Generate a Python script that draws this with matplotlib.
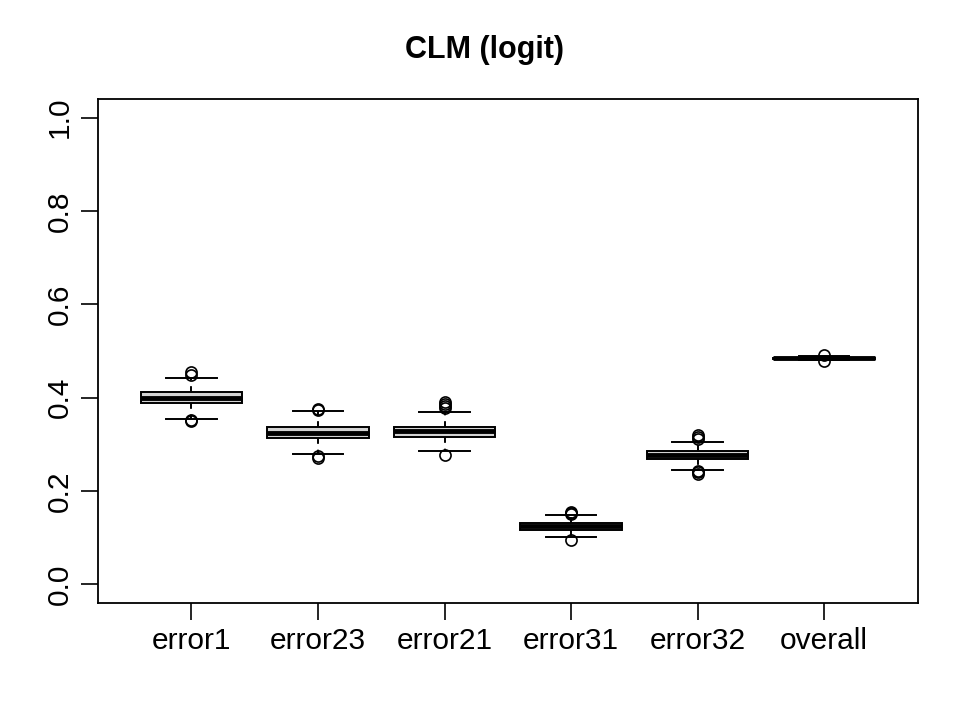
import matplotlib
matplotlib.use('Agg')
import matplotlib.pyplot as plt

# Five-number summaries, one entry per group
labels = ['error1', 'error23', 'error21', 'error31', 'error32', 'overall']
q1 = [0.389, 0.313, 0.315, 0.116, 0.268, 0.4820]
medians = [0.400, 0.325, 0.328, 0.124, 0.277, 0.4840]
q3 = [0.412, 0.338, 0.338, 0.132, 0.285, 0.4860]
whislo = [0.355, 0.280, 0.285, 0.101, 0.246, 0.4800]
whishi = [0.443, 0.372, 0.370, 0.148, 0.306, 0.4885]
outliers = [
    [0.456, 0.449, 0.352, 0.349],
    [0.376, 0.374, 0.275, 0.270],
    [0.390, 0.386, 0.382, 0.378, 0.277],
    [0.155, 0.152, 0.150, 0.094],
    [0.320, 0.315, 0.311, 0.243, 0.240, 0.237],
    [0.491, 0.479],
]

plt.rcParams['font.family'] = ['Liberation Sans', 'DejaVu Sans']

fig = plt.figure(figsize=(9.69, 7.27), dpi=100)
ax = fig.add_axes([0.101, 0.1706, 0.846, 0.6932])

stats = []
for i in range(len(labels)):
    stats.append(dict(label=labels[i], q1=q1[i], med=medians[i], q3=q3[i],
                      whislo=whislo[i], whishi=whishi[i], fliers=outliers[i]))

ax.bxp(stats, positions=range(1, len(labels) + 1), widths=0.8,
       patch_artist=True, showfliers=True,
       boxprops=dict(facecolor='#d3d3d3', edgecolor='black', linewidth=1.4),
       medianprops=dict(color='black', linewidth=3.5, solid_capstyle='butt'),
       whiskerprops=dict(color='black', linewidth=1.4, linestyle=(0, (3, 3))),
       capprops=dict(color='black', linewidth=1.4),
       capwidths=0.4,
       flierprops=dict(marker='o', markerfacecolor='none', markeredgecolor='black',
                       markersize=8, markeredgewidth=1.2))

ax.set_xlim(0.26, 6.74)
ax.set_ylim(-0.04, 1.04)
ax.set_yticks([0.0, 0.2, 0.4, 0.6, 0.8, 1.0])
ax.set_yticklabels(['0.0', '0.2', '0.4', '0.6', '0.8', '1.0'], rotation=90, va='center')
ax.set_xticks(range(1, len(labels) + 1))
ax.set_xticklabels(labels)
ax.tick_params(axis='both', labelsize=21.5, length=12, width=1.2, pad=5)
ax.tick_params(axis='y', pad=5.5)
for sp in ax.spines.values():
    sp.set_linewidth(1.3)

fig.text(0.5, 1 - 50 / 727, 'CLM (logit)', ha='center', va='center',
         fontsize=22, fontweight='bold')

fig.savefig('out.png', dpi=100)
